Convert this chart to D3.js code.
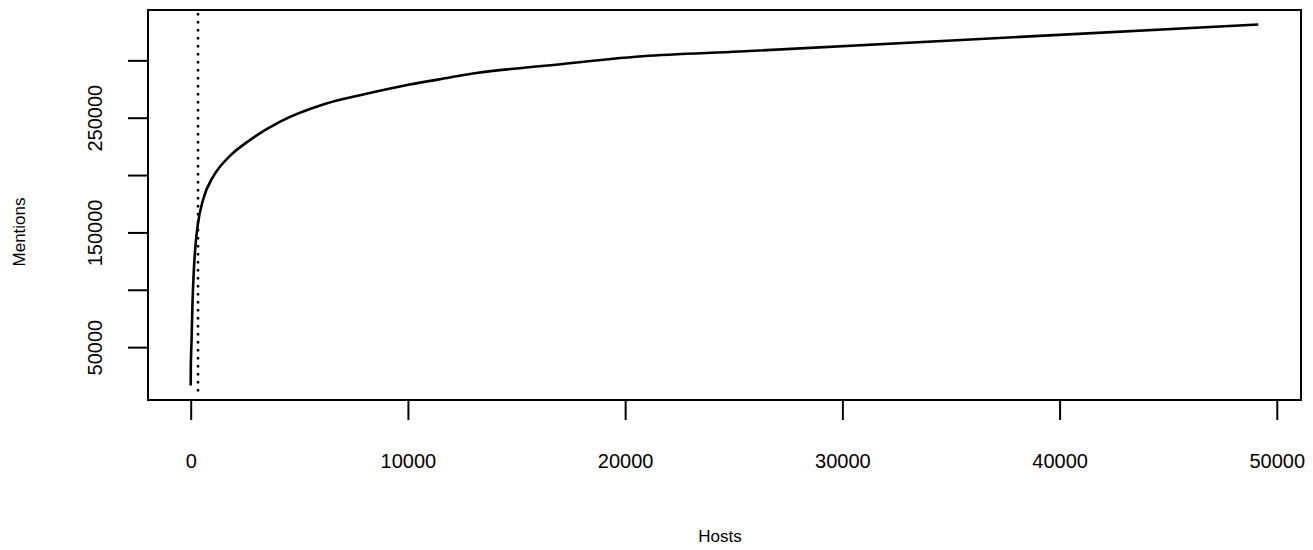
<!DOCTYPE html>
<html>
<head>
<meta charset="utf-8">
<script src="https://cdn.jsdelivr.net/npm/d3@7"></script>
<style>
    body { margin: 0; background: #fff; }
    svg { display: block; }
    text { font-family: "Liberation Sans", Arial, Helvetica, sans-serif; fill: #000; }
</style>
</head>
<body>
<svg id="chart" width="1313" height="550"></svg>
<script>
// values
var hosts    = [0, 5, 40, 78, 138, 216, 336, 566, 1027, 1335, 1795, 2715, 4096, 6245, 8086, 10079, 11920, 13148, 16062, 20800, 25265, 39071, 49148]
var mentions = [16500, 32000, 56000, 85400, 114800, 137700, 158000, 178300, 198500, 207000, 216500, 230400, 246300, 262300, 270800, 278900, 285000, 289000, 294800, 303600, 307700, 321300, 331300]
var cutoff = 336

var xTicks = [0, 10000, 20000, 30000, 40000, 50000]
var yTicks = [50000, 100000, 150000, 200000, 250000, 300000]
var yLabels = ["50000", "", "150000", "", "250000", ""]

// plot box (note: "top" is taken by window.top, so prefix these)
var boxLeft = 148, boxRight = 1301, boxTop = 10, boxBottom = 400

// R style 4% padding round the data range
function padded(values)
{
    var min = d3.min(values), max = d3.max(values)
    var pad = (max - min) * 0.04
    return [min - pad, max + pad]
}

var svg = d3.select("#chart")

var x = d3.scaleLinear().domain(padded(hosts)).range([boxLeft, boxRight])
var y = d3.scaleLinear().domain(padded(mentions)).range([boxBottom, boxTop])

var points = hosts.map(function(h, i){ return {h: h, m: mentions[i]} })

svg.append("line")
    .attr("x1", x(cutoff)).attr("x2", x(cutoff))
    .attr("y1", boxTop + 3).attr("y2", boxBottom - 7)
    .attr("stroke", "#000")
    .attr("stroke-width", 2.5)
    .attr("stroke-dasharray", "2.5,5.5")

var line = d3.line()
    .x(function(d){ return x(d.h) })
    .y(function(d){ return y(d.m) })
    .curve(d3.curveMonotoneX)

svg.append("path")
    .datum(points)
    .attr("d", line)
    .attr("fill", "none")
    .attr("stroke", "#000")
    .attr("stroke-width", 2.6)
    .attr("stroke-linejoin", "round")

// box
svg.append("rect")
    .attr("x", boxLeft).attr("y", boxTop)
    .attr("width", boxRight - boxLeft).attr("height", boxBottom - boxTop)
    .attr("fill", "none")
    .attr("stroke", "#000")
    .attr("stroke-width", 2)

var xAxis = svg.append("g")
    .attr("transform", "translate(0," + boxBottom + ")")
    .call(d3.axisBottom(x).tickValues(xTicks).tickSize(20).tickFormat(d3.format("d")))
xAxis.select(".domain").remove()
xAxis.selectAll("line").attr("stroke-width", 2)
xAxis.selectAll("text")
    .attr("y", 68).attr("dy", 0)
    .style("font-size", "20px")

var yAxis = svg.append("g")
    .attr("transform", "translate(" + boxLeft + ",0)")
    .call(d3.axisLeft(y).tickValues(yTicks).tickSize(20).tickFormat(function(d, i){ return yLabels[i] }))
yAxis.select(".domain").remove()
yAxis.selectAll("line").attr("stroke-width", 2)
yAxis.selectAll("text")
    .attr("transform", "rotate(-90)")
    .attr("x", 0).attr("y", -46).attr("dy", 0)
    .attr("text-anchor", "middle")
    .style("font-size", "20px")

svg.append("text")
    .attr("x", 720).attr("y", 542)
    .attr("text-anchor", "middle")
    .style("font-size", "17px")
    .text("Hosts")

svg.append("text")
    .attr("transform", "translate(25,232) rotate(-90)")
    .attr("text-anchor", "middle")
    .style("font-size", "17px")
    .text("Mentions")
</script>
</body>
</html>
